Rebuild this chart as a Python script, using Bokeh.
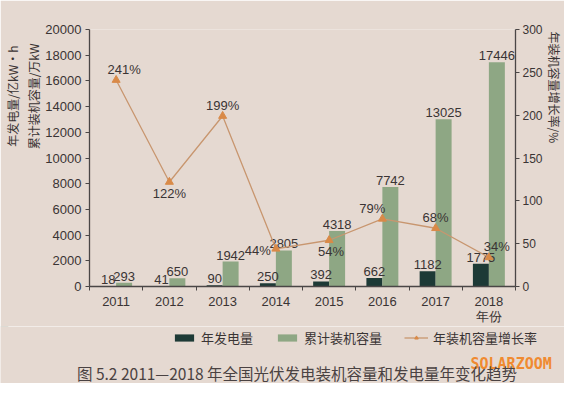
import math
import numpy as np
from bokeh.plotting import figure
from bokeh.layouts import column
from bokeh.models import (Range1d, LinearAxis, FixedTicker, ColumnDataSource, Title, Label,
                          Legend, LegendItem, SingleIntervalTicker)
from bokeh.core.properties import value
from bokeh.embed import file_html
from bokeh.resources import INLINE

# ---- data ----
years = ["2011", "2012", "2013", "2014", "2015", "2016", "2017", "2018"]
generation = [18, 41, 90, 250, 392, 662, 1182, 1775]          # 年发电量 亿kW·h
capacity = [293, 650, 1942, 2805, 4318, 7742, 13025, 17446]   # 累计装机容量 万kW
growth = [241, 122, 199, 44, 54, 79, 68, 34]                  # 年装机容量增长率 %

# ---- styles ----
BG = "#e5d9d1"
DARK = "#1d3a36"
GREEN = "#8ea784"
LINE = "#c8966f"
MARK = "#d98a48"
TXT = "#3a3434"
AX = "#4a4646"
CJK = "Noto Sans CJK SC"
NUM = "Liberation Sans"

g_dx = [8, 0, 0, -18, 2, -10, 0, 8]
g_dy = [-11, 12, -11, 2, 11, -10, -11, -11]

n = len(years)
centers = np.arange(n) + 0.5

H1 = 326
H2 = 383 - H1

p = figure(width=564, height=H1, output_backend="svg", toolbar_location=None,
           x_range=Range1d(0, n), y_range=Range1d(0, 20000),
           min_border_left=10, min_border_right=0, min_border_top=29, min_border_bottom=0,
           background_fill_color=BG, border_fill_color=BG)
p.outline_line_color = None
p.xgrid.visible = False
p.ygrid.visible = False
p.extra_y_ranges = {"rate": Range1d(0, 300)}

src = ColumnDataSource(dict(
    xd=centers - 0.15, xg=centers + 0.15, xc=centers,
    gen=generation, cap=capacity, gr=growth,
    gen_t=[str(v) for v in generation], cap_t=[str(v) for v in capacity],
    gr_t=[f"{v}%" for v in growth],
    gx=g_dx, gy=g_dy,
))
p.vbar(x="xd", top="gen", width=0.3, source=src, fill_color=DARK, line_color=None)
p.vbar(x="xg", top="cap", width=0.3, source=src, fill_color=GREEN, line_color=None)

p.text(x="xd", y="gen", text="gen_t", source=src, text_align="center", text_baseline="bottom",
       y_offset=-2, text_font=value(NUM), text_font_size="13px", text_color=TXT)
p.text(x="xg", y="cap", text="cap_t", source=src, text_align="center", text_baseline="bottom",
       y_offset=-2, text_font=value(NUM), text_font_size="13px", text_color=TXT)

p.line(x="xc", y="gr", source=src, y_range_name="rate", line_color=LINE, line_width=1.3)
p.scatter(x="xc", y="gr", source=src, y_range_name="rate", marker="triangle",
          size=8, fill_color=MARK, line_color=MARK)
p.text(x="xc", y="gr", text="gr_t", source=src, y_range_name="rate", x_offset="gx", y_offset="gy",
       text_align="center", text_baseline="middle", text_font=value(NUM), text_font_size="13px",
       text_color=TXT)

xa = p.xaxis[0]
xa.ticker = FixedTicker(ticks=list(centers), minor_ticks=list(range(n + 1)))
labels = list(years)
labels[-1] = labels[-1] + "\n年份"
xa.major_label_overrides = {float(c): y for c, y in zip(centers, labels)}
xa.major_tick_out = 0
xa.major_tick_in = 0
xa.minor_tick_out = 4
xa.minor_tick_in = 0
xa.minor_tick_line_color = AX
xa.axis_line_color = AX
xa.axis_line_width = 1.3
xa.major_label_text_font = NUM
xa.major_label_text_font_size = "13px"
xa.major_label_text_line_height = 1.0
xa.major_label_text_color = TXT
xa.major_label_standoff = 3

ya = p.yaxis[0]
ya.ticker = SingleIntervalTicker(interval=2000)
ya.minor_tick_line_color = None
ya.major_tick_out = 4
ya.major_tick_in = 0
ya.major_tick_line_color = AX
ya.axis_line_color = AX
ya.axis_line_width = 1.3
ya.major_label_text_font = NUM
ya.major_label_text_font_size = "13px"
ya.major_label_text_color = TXT
ya.major_label_standoff = 4

ra = LinearAxis(y_range_name="rate", ticker=SingleIntervalTicker(interval=50))
ra.minor_tick_line_color = None
ra.major_tick_out = 4
ra.major_tick_in = 0
ra.major_tick_line_color = AX
ra.axis_line_color = AX
ra.axis_line_width = 1.3
ra.major_label_text_font = NUM
ra.major_label_text_font_size = "12px"
ra.major_label_text_color = TXT
ra.major_label_standoff = 3
p.add_layout(ra, "right")

# axis titles
p.add_layout(Title(text="累计装机容量/万kW", align="right", offset=14, standoff=2,
                   text_font=CJK, text_font_size="12px", text_font_style="normal",
                   text_color=TXT), "left")
p.add_layout(Title(text="年发电量/亿kW·h", align="right", offset=16, standoff=2,
                   text_font=CJK, text_font_size="12px", text_font_style="normal",
                   text_color=TXT), "left")
p.add_layout(Title(text="年装机容量增长率/%", align="left", offset=2, standoff=0,
                   text_font=CJK, text_font_size="12px", text_font_style="normal",
                   text_color=TXT), "right")

# ---- bottom strip: legend, watermark, caption ----
p2 = figure(width=564, height=H2, output_backend="svg", toolbar_location=None,
            x_range=Range1d(0, 564), y_range=Range1d(H2, 0),
            x_axis_location=None, y_axis_location=None,
            min_border=0, background_fill_color=BG, border_fill_color=BG)
if "frame_align" in p2.properties():
    p2.frame_align = False
    p.frame_align = False
p2.outline_line_color = None
p2.xgrid.visible = False
p2.ygrid.visible = False
# legend proxies: same data, drawn on an off-screen range so only the legend shows them
p2.extra_y_ranges = {"off": Range1d(-2, -1)}
l_dark = p2.vbar(x="xd", top="gen", width=0.3, source=src, y_range_name="off",
                 fill_color=DARK, line_color=None)
l_green = p2.vbar(x="xg", top="cap", width=0.3, source=src, y_range_name="off",
                  fill_color=GREEN, line_color=None)
l_line = p2.line(x="xc", y="gr", source=src, y_range_name="off", line_color=LINE, line_width=1.3)
l_mark = p2.scatter(x="xc", y="gr", source=src, y_range_name="off", marker="triangle",
                    size=7, fill_color=MARK, line_color=MARK)

legend = Legend(items=[
    LegendItem(label="年发电量", renderers=[l_dark]),
    LegendItem(label="累计装机容量", renderers=[l_green]),
    LegendItem(label="年装机容量增长率", renderers=[l_line, l_mark]),
], location=(172, 36), orientation="horizontal", glyph_width=24, glyph_height=9,
   label_text_font=CJK, label_text_font_size="13px", label_text_color=TXT,
   spacing=22, padding=0, margin=0, label_standoff=5, border_line_color=None,
   background_fill_alpha=0)
p2.add_layout(legend)

p2.add_layout(Label(x=470, y=37, text="SOLARZOOM", text_align="left", text_baseline="middle",
                    text_font="DejaVu Sans Mono", text_font_size="15px", text_font_style="bold",
                    text_color="#f08a30"))
p2.add_layout(Label(x=300, y=46, text="图 5.2   2011—2018 年全国光伏发电装机容量和发电量年变化趋势",
                    text_align="center", text_baseline="middle", text_font=CJK,
                    text_font_size="15.5px", text_color="#4a4242"))

layout = column(p, p2, spacing=0)
open("out.html", "w").write(file_html(layout, INLINE))
